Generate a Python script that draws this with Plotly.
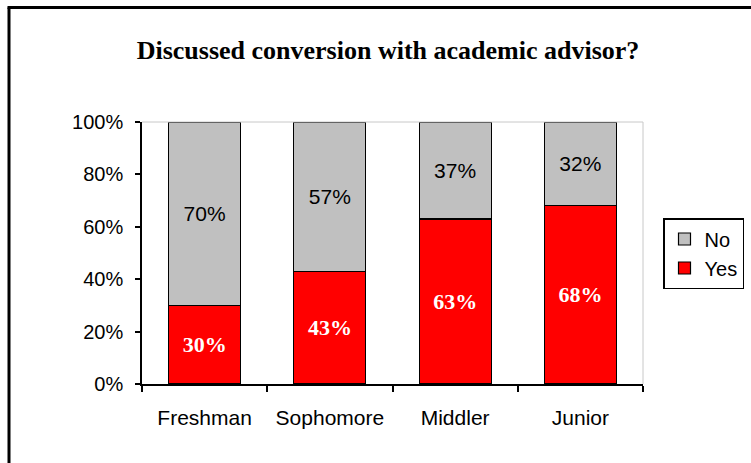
import plotly.graph_objects as go

categories = ["Freshman", "Sophomore", "Middler", "Junior"]
yes_vals = [30, 43, 63, 68]
no_vals = [70, 57, 37, 32]
y_ticks = [0, 20, 40, 60, 80, 100]
y_tick_labels = ["0%", "20%", "40%", "60%", "80%", "100%"]

W, H = 751, 463
ML, MR, MT, MB = 142, 108, 122, 79
PW, PH = W - ML - MR, H - MT - MB

def px_x(px):
    return (px - ML) / PW

def px_y(py):
    return (H - MB - py) / PH

fig = go.Figure()
fig.add_trace(go.Bar(
    x=categories, y=yes_vals, name="Yes",
    marker=dict(color="#FF0000", line=dict(color="black", width=1.2)),
    text=[f"{v}%" for v in yes_vals], textposition="inside",
    insidetextanchor="middle", textangle=0,
    textfont=dict(family="Liberation Serif", size=22, color="white", weight="bold"),
    legendrank=2, hoverinfo="skip",
))
fig.add_trace(go.Bar(
    x=categories, y=no_vals, name="No",
    marker=dict(color="#C0C0C0", line=dict(color="black", width=1.2)),
    text=[f"{v}%" for v in no_vals], textposition="inside",
    insidetextanchor="middle", textangle=0,
    textfont=dict(family="Liberation Sans", size=21, color="black"),
    legendrank=1, hoverinfo="skip",
))

fig.update_layout(
    width=W, height=H,
    margin=dict(l=ML, r=MR, t=MT, b=MB, autoexpand=False),
    paper_bgcolor="white", plot_bgcolor="white",
    barmode="stack", bargap=0.425,
    showlegend=True,
    title=dict(text="<b>Discussed conversion with academic advisor?</b>",
               x=388 / W, xanchor="center", xref="container",
               y=1 - 50 / H, yanchor="middle", yref="container",
               font=dict(family="Liberation Serif", size=26, color="black")),
    legend=dict(x=px_x(663), y=px_y(218), xanchor="left", yanchor="top",
                traceorder="normal",
                bordercolor="black", borderwidth=1.5, bgcolor="white",
                font=dict(family="Liberation Sans", size=20, color="black"),
                itemwidth=30),
    font=dict(family="Liberation Sans", size=20, color="black"),
)
fig.update_xaxes(
    showline=True, linecolor="black", linewidth=1.5, mirror=False,
    ticks="outside", tickson="boundaries", ticklen=6, tickcolor="black", tickwidth=1.5,
    showgrid=False, ticklabelstandoff=14,
    tickfont=dict(family="Liberation Sans", size=21, color="black"),
    range=[-0.5, 3.5],
)
fig.update_yaxes(
    range=[0, 100], tickvals=y_ticks, ticktext=y_tick_labels,
    showline=True, linecolor="black", linewidth=1.5,
    ticks="outside", ticklen=5, tickcolor="black", tickwidth=1.5,
    showgrid=False, ticklabelstandoff=8,
    tickfont=dict(family="Liberation Sans", size=20, color="black"),
)
# light gray plot-area border (top and right)
fig.add_shape(type="line", xref="paper", yref="paper", x0=0, x1=1, y0=1, y1=1,
              line=dict(color="#C8C8C8", width=1))
fig.add_shape(type="line", xref="paper", yref="paper", x0=1, x1=1, y0=0, y1=1,
              line=dict(color="#C8C8C8", width=1))
# outer chart border (left and top visible)
fig.add_shape(type="line", xref="paper", yref="paper",
              x0=px_x(9), x1=px_x(9), y0=px_y(7.5), y1=px_y(H + 5),
              line=dict(color="black", width=3))
fig.add_shape(type="line", xref="paper", yref="paper",
              x0=px_x(7.5), x1=px_x(W + 5), y0=px_y(7.5), y1=px_y(7.5),
              line=dict(color="black", width=3))

fig.write_html("out.html", config={"displayModeBar": False},
               post_script="document.body.style.margin='0';document.body.style.overflow='hidden';")
